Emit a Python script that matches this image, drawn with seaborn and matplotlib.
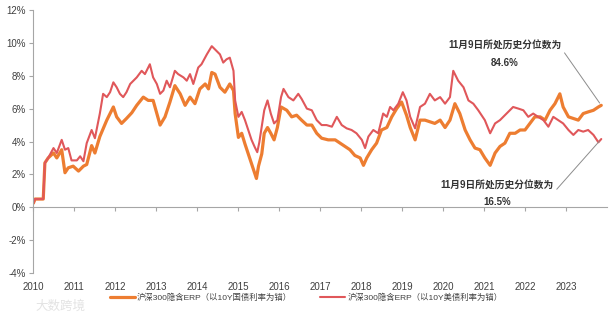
import numpy as np
import pandas as pd
import matplotlib
matplotlib.use("Agg")
import matplotlib.pyplot as plt
import seaborn as sns

# ---------------- data ----------------
red_x = [2010.01, 2010.05, 2010.25, 2010.29, 2010.37, 2010.50, 2010.58, 2010.70, 2010.78, 2010.86,
         2010.94, 2011.07, 2011.15, 2011.23, 2011.31, 2011.43, 2011.51, 2011.63, 2011.71, 2011.80,
         2011.88, 2011.96, 2012.04, 2012.12, 2012.20, 2012.28, 2012.37, 2012.53, 2012.65, 2012.73,
         2012.85, 2012.93, 2013.02, 2013.10, 2013.18, 2013.26, 2013.34, 2013.46, 2013.54, 2013.67,
         2013.75, 2013.83, 2013.91, 2014.03, 2014.11, 2014.24, 2014.36, 2014.44, 2014.56, 2014.64,
         2014.72, 2014.80, 2014.89, 2014.93, 2015.01, 2015.09, 2015.17, 2015.25, 2015.33, 2015.41,
         2015.47, 2015.52, 2015.64, 2015.72, 2015.80, 2015.88, 2015.96, 2016.05, 2016.11, 2016.23,
         2016.35, 2016.47, 2016.55, 2016.68, 2016.80, 2016.92, 2017.04, 2017.16, 2017.29, 2017.41,
         2017.53, 2017.65, 2017.77, 2017.89, 2018.02, 2018.10, 2018.18, 2018.30, 2018.42, 2018.54,
         2018.63, 2018.71, 2018.79, 2018.91, 2019.02, 2019.11, 2019.20, 2019.32, 2019.44, 2019.56,
         2019.68, 2019.80, 2019.93, 2020.05, 2020.17, 2020.25, 2020.37, 2020.50, 2020.62, 2020.74,
         2020.86, 2021.02, 2021.15, 2021.27, 2021.39, 2021.55, 2021.71, 2021.84, 2021.96, 2022.08,
         2022.20, 2022.32, 2022.45, 2022.57, 2022.69, 2022.81, 2022.93, 2023.06, 2023.18, 2023.30,
         2023.42, 2023.54, 2023.67, 2023.79, 2023.86]
red_y = [0.25, 0.5, 0.5, 2.7, 3.0, 3.6, 3.3, 4.1, 3.5, 3.6,
         2.85, 2.85, 3.1, 2.8, 3.9, 4.7, 4.2, 5.7, 6.9, 6.7,
         7.0, 7.6, 7.3, 6.9, 6.7, 7.0, 7.5, 7.9, 8.3, 8.1,
         8.7, 7.9, 7.5, 6.9, 7.1, 7.7, 7.3, 8.3, 8.1, 7.9,
         7.7, 8.1, 7.5, 8.5, 8.7, 9.3, 9.8, 9.6, 9.3, 8.8,
         9.0, 9.1, 8.3, 6.5, 5.5, 5.8, 5.3, 4.7, 4.1, 3.65,
         3.35, 3.95, 5.9, 6.5, 5.7, 5.1, 5.3, 6.7, 7.2, 6.7,
         6.5, 6.9, 6.6, 6.0, 5.9, 5.3, 5.0, 5.0, 4.9, 5.5,
         5.0, 4.8, 4.7, 4.5, 4.1, 3.6, 4.3, 4.7, 4.5, 5.7,
         5.5, 6.1, 5.9, 6.3, 7.0, 6.5, 5.5, 4.8, 6.1, 6.3,
         6.9, 6.5, 6.7, 6.3, 6.7, 8.3, 7.7, 7.3, 6.5, 6.3,
         5.9, 5.3, 4.5, 5.1, 5.3, 5.7, 6.1, 6.0, 5.9, 5.5,
         5.7, 5.5, 5.3, 4.9, 5.5, 5.3, 5.1, 4.7, 4.4, 4.7,
         4.6, 4.7, 4.4, 3.95, 4.15]

orange_x = [2010.01, 2010.05, 2010.25, 2010.29, 2010.37, 2010.50, 2010.58, 2010.70, 2010.78, 2010.86,
            2010.98, 2011.11, 2011.23, 2011.31, 2011.43, 2011.51, 2011.63, 2011.80, 2011.96, 2012.04,
            2012.16, 2012.28, 2012.41, 2012.53, 2012.69, 2012.81, 2012.93, 2013.10, 2013.22, 2013.34,
            2013.46, 2013.59, 2013.71, 2013.83, 2013.95, 2014.07, 2014.20, 2014.28, 2014.36, 2014.44,
            2014.56, 2014.68, 2014.80, 2014.89, 2014.93, 2015.01, 2015.09, 2015.17, 2015.25, 2015.33,
            2015.41, 2015.45, 2015.50, 2015.58, 2015.64, 2015.72, 2015.80, 2015.88, 2015.96, 2016.05,
            2016.19, 2016.31, 2016.43, 2016.55, 2016.68, 2016.80, 2016.92, 2017.04, 2017.20, 2017.37,
            2017.49, 2017.61, 2017.73, 2017.85, 2017.98, 2018.06, 2018.14, 2018.26, 2018.38, 2018.50,
            2018.63, 2018.75, 2018.87, 2018.99, 2019.11, 2019.20, 2019.32, 2019.44, 2019.56, 2019.68,
            2019.80, 2019.93, 2020.05, 2020.17, 2020.29, 2020.41, 2020.54, 2020.66, 2020.78, 2020.90,
            2021.02, 2021.15, 2021.27, 2021.39, 2021.51, 2021.63, 2021.76, 2021.88, 2022.00, 2022.12,
            2022.24, 2022.37, 2022.49, 2022.61, 2022.73, 2022.85, 2022.93, 2023.06, 2023.18, 2023.30,
            2023.42, 2023.54, 2023.67, 2023.79, 2023.86]
orange_y = [0.25, 0.5, 0.5, 2.7, 3.0, 3.3, 3.0, 3.5, 2.1, 2.4,
            2.5, 2.2, 2.5, 2.6, 3.75, 3.3, 4.3, 5.3, 6.1, 5.5,
            5.1, 5.4, 5.75, 6.2, 6.7, 6.5, 6.5, 5.0, 5.5, 6.4,
            7.4, 6.9, 6.2, 6.7, 6.3, 7.2, 7.5, 7.2, 8.2, 8.1,
            7.3, 7.0, 7.5, 7.1, 5.7, 4.25, 4.5, 3.85, 3.25, 2.65,
            2.05, 1.75, 2.5, 3.25, 4.5, 4.85, 4.5, 4.1, 4.85, 6.1,
            5.9, 5.5, 5.6, 5.3, 5.0, 5.0, 4.5, 4.2, 4.1, 4.1,
            3.9, 3.7, 3.5, 3.15, 3.0, 2.55, 3.0, 3.5, 3.9, 4.7,
            4.85, 5.5, 6.0, 6.4, 5.6, 4.85, 4.1, 5.3, 5.3, 5.2,
            5.1, 5.3, 4.85, 5.3, 6.3, 5.7, 4.7, 4.1, 3.6, 3.5,
            3.0, 2.55, 3.3, 3.7, 3.9, 4.5, 4.5, 4.7, 4.7, 5.1,
            5.5, 5.5, 5.3, 5.9, 6.3, 6.9, 6.1, 5.5, 5.4, 5.3,
            5.7, 5.8, 5.9, 6.1, 6.2]

series_names = ["沪深300隐含ERP（以10Y国债利率为锚）", "沪深300隐含ERP（以10Y美债利率为锚）"]
years = list(range(2010, 2024))
y_ticks = [-4, -2, 0, 2, 4, 6, 8, 10, 12]
annot_title = "11月9日所处历史分位数为"
annot_orange = "84.6%"
annot_red = "16.5%"
watermark = "大数跨境"

# ---------------- styling ----------------
sns.set_theme(style="white")
plt.rcParams["font.family"] = ["Liberation Sans", "Noto Sans CJK SC", "DejaVu Sans"]
plt.rcParams["axes.unicode_minus"] = False

ORANGE = "#ED7D31"
RED = "#E0575A"
GRAY = "#A6A6A6"
TXT = "#404040"

df = pd.concat([
    pd.DataFrame({"x": orange_x, "y": orange_y, "s": series_names[0]}),
    pd.DataFrame({"x": red_x, "y": red_y, "s": series_names[1]}),
])

fig = plt.figure(figsize=(6.12, 3.22), dpi=100)
ax = fig.add_axes([33 / 612, 1 - 273 / 322, (607 - 33) / 612, (273 - 10) / 322])

sns.lineplot(data=df[df.s == series_names[0]], x="x", y="y", ax=ax, color=ORANGE,
             linewidth=2.3, sort=False, label=series_names[0], legend=False)
sns.lineplot(data=df[df.s == series_names[1]], x="x", y="y", ax=ax, color=RED,
             linewidth=1.5, sort=False, label=series_names[1], legend=False)

ax.set_xlim(2010, 2024.0)
ax.set_ylim(-4, 12)
ax.set_xlabel("")
ax.set_ylabel("")

ax.set_yticks(y_ticks)
ax.set_yticklabels([f"{v}%" for v in y_ticks])
ax.set_xticks(years)
ax.set_xticklabels([str(y) for y in years])

for s in ["top", "right"]:
    ax.spines[s].set_visible(False)
ax.spines["left"].set_color(GRAY)
ax.spines["left"].set_linewidth(0.8)
ax.spines["bottom"].set_position(("data", 0))
ax.spines["bottom"].set_color(GRAY)
ax.spines["bottom"].set_linewidth(0.8)

ax.tick_params(axis="y", which="both", left=True, direction="out", length=3, width=0.8,
               color=GRAY, labelsize=7, labelcolor=TXT, pad=2)
ax.tick_params(axis="x", which="both", bottom=True, direction="out", length=3, width=0.8,
               color=GRAY, labelsize=7, labelcolor=TXT, pad=51)
ax.grid(False)

# annotations
ax.text(2021.51, 9.82, annot_title, ha="center", va="center", fontsize=7,
        fontweight="bold", color="#333333")
ax.text(2021.51, 8.79, annot_orange, ha="center", va="center", fontsize=7,
        fontweight="bold", color="#333333")
ax.text(2021.32, 1.33, annot_title, ha="center", va="center", fontsize=7,
        fontweight="bold", color="#333333")
ax.text(2021.32, 0.30, annot_red, ha="center", va="center", fontsize=7,
        fontweight="bold", color="#333333")

ax.annotate("", xy=(orange_x[-1], orange_y[-1]), xytext=(2022.90, 9.45),
            arrowprops=dict(arrowstyle="-", color="#8C8C8C", lw=0.7,
                            connectionstyle="angle,angleA=0,angleB=125,rad=0"))
ax.annotate("", xy=(red_x[-1], red_y[-1]), xytext=(2022.73, 0.97),
            arrowprops=dict(arrowstyle="-", color="#8C8C8C", lw=0.7))

# legend
handles, labels = ax.get_legend_handles_labels()
leg = fig.legend(handles, labels, loc="center", bbox_to_anchor=(306 / 612, 1 - 298 / 322),
                 ncol=2, frameon=False, fontsize=6.0, handlelength=3.0,
                 columnspacing=3.4, handletextpad=0.25)
for t in leg.get_texts():
    t.set_color(TXT)

# watermark
fig.text(60 / 612, 1 - 307 / 322, watermark, ha="center", va="center", fontsize=9,
         color="#E3E3E3")

fig.savefig("out.png", dpi=100)
